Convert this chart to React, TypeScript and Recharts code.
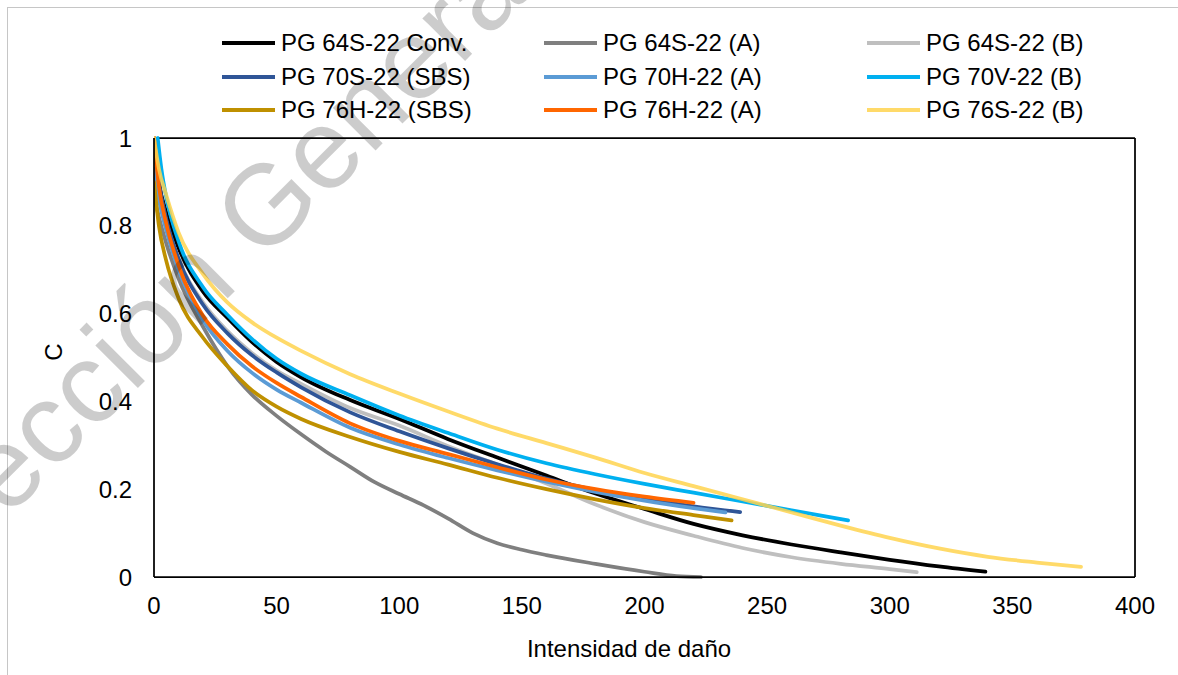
import { LineChart, Line, XAxis, YAxis, ReferenceLine } from "recharts"

const X_TICKS = [0, 50, 100, 150, 200, 250, 300, 350, 400]
const Y_TICKS = [0, 0.2, 0.4, 0.6, 0.8, 1]

// PG 64S-22 Conv.
const S_CONV = [0, 2, 5, 10, 20, 30, 40, 50, 60, 80, 100, 120, 140, 160, 180, 200, 220, 240, 260, 280, 300, 320, 339]
const C_CONV = [1.0, 0.9, 0.83, 0.75, 0.65, 0.59, 0.535, 0.49, 0.455, 0.403, 0.36, 0.314, 0.272, 0.231, 0.19, 0.155, 0.121, 0.095, 0.074, 0.056, 0.039, 0.024, 0.012]

// PG 64S-22 (A)
const S_64A = [0, 2, 5, 10, 20, 30, 40, 50, 60, 70, 80, 90, 100, 110, 120, 130, 140, 150, 160, 180, 200, 213, 223]
const C_64A = [0.87, 0.82, 0.76, 0.68, 0.57, 0.48, 0.415, 0.367, 0.325, 0.286, 0.251, 0.216, 0.189, 0.163, 0.133, 0.1, 0.077, 0.062, 0.05, 0.03, 0.012, 0.002, 0.0]

// PG 64S-22 (B)
const S_64B = [0, 2, 5, 10, 20, 30, 40, 50, 60, 80, 100, 120, 140, 160, 180, 200, 220, 240, 260, 280, 300, 311]
const C_64B = [0.97, 0.89, 0.81, 0.725, 0.625, 0.56, 0.51, 0.47, 0.44, 0.385, 0.345, 0.298, 0.256, 0.213, 0.165, 0.125, 0.094, 0.066, 0.045, 0.03, 0.018, 0.011]

// PG 70S-22 (SBS)
const S_70SBS = [0, 2, 5, 10, 20, 30, 40, 50, 60, 80, 100, 120, 140, 160, 180, 200, 220, 239]
const C_70SBS = [1.0, 0.9, 0.815, 0.725, 0.62, 0.555, 0.505, 0.466, 0.432, 0.375, 0.332, 0.293, 0.257, 0.224, 0.198, 0.178, 0.161, 0.148]

// PG 70H-22 (A)
const S_70A = [0, 2, 5, 10, 20, 30, 40, 50, 60, 80, 100, 120, 140, 160, 180, 200, 220, 233]
const C_70A = [0.93, 0.86, 0.79, 0.7, 0.585, 0.515, 0.465, 0.427, 0.397, 0.34, 0.302, 0.271, 0.243, 0.217, 0.194, 0.174, 0.157, 0.147]

// PG 70V-22 (B)
const S_70B = [1.5, 3, 5, 10, 20, 30, 40, 50, 60, 80, 100, 120, 140, 160, 180, 200, 220, 240, 260, 283]
const C_70B = [1.0, 0.93, 0.865, 0.765, 0.66, 0.597, 0.542, 0.497, 0.463, 0.414, 0.368, 0.328, 0.29, 0.259, 0.234, 0.212, 0.192, 0.172, 0.152, 0.129]

// PG 76H-22 (SBS)
const S_76SBS = [0, 2, 5, 10, 20, 30, 40, 50, 60, 80, 100, 120, 140, 160, 180, 200, 220, 235.5]
const C_76SBS = [0.9, 0.8, 0.72, 0.635, 0.545, 0.48, 0.425, 0.388, 0.36, 0.319, 0.285, 0.256, 0.226, 0.2, 0.177, 0.157, 0.141, 0.129]

// PG 76H-22 (A)
const S_76A = [0, 2, 5, 10, 20, 30, 40, 50, 60, 80, 100, 120, 140, 160, 180, 200, 220]
const C_76A = [1.0, 0.89, 0.805, 0.71, 0.595, 0.53, 0.48, 0.442, 0.41, 0.35, 0.31, 0.28, 0.25, 0.222, 0.2, 0.183, 0.169]

// PG 76S-22 (B)
const S_76B = [0, 2, 5, 10, 20, 30, 40, 50, 60, 80, 100, 120, 140, 160, 180, 200, 220, 240, 260, 280, 300, 320, 340, 360, 378]
const C_76B = [1.0, 0.93, 0.87, 0.785, 0.69, 0.625, 0.58, 0.545, 0.515, 0.462, 0.418, 0.377, 0.338, 0.305, 0.272, 0.237, 0.207, 0.177, 0.147, 0.117, 0.089, 0.065, 0.046, 0.033, 0.023]

const FONT = "'Liberation Sans', Arial, sans-serif"
const FS = 24

const toPoints = (s: number[], c: number[]) => s.map((x, i) => ({ s: x, c: c[i] }))

const SERIES = [
  { name: "PG 64S-22 Conv.", color: "#000000", data: toPoints(S_CONV, C_CONV) },
  { name: "PG 64S-22 (A)", color: "#7f7f7f", data: toPoints(S_64A, C_64A) },
  { name: "PG 64S-22 (B)", color: "#bfbfbf", data: toPoints(S_64B, C_64B) },
  { name: "PG 70S-22 (SBS)", color: "#2f5597", data: toPoints(S_70SBS, C_70SBS) },
  { name: "PG 70H-22 (A)", color: "#5b9bd5", data: toPoints(S_70A, C_70A) },
  { name: "PG 70V-22 (B)", color: "#00b0f0", data: toPoints(S_70B, C_70B) },
  { name: "PG 76H-22 (SBS)", color: "#bf9000", data: toPoints(S_76SBS, C_76SBS) },
  { name: "PG 76H-22 (A)", color: "#ff6600", data: toPoints(S_76A, C_76A) },
  { name: "PG 76S-22 (B)", color: "#ffd34f", data: toPoints(S_76B, C_76B), opacity: 0.85 },
]

const LEGEND_COLS = [222, 544, 867]
const LEGEND_ROWS = [43, 77, 110]

export default function App() {
  return (
    <div style={{ position: "fixed", left: 0, top: 0, width: 1178, height: 675, background: "#fff", overflow: "hidden", fontFamily: FONT }}>
      {/* outer chart frame */}
      <div style={{ position: "absolute", left: 7, top: 7, width: 1200, height: 700, border: "1px solid #c6c6c6" }} />

      <LineChart width={1178} height={675} margin={{ top: 138, right: 43, bottom: 58, left: 0 }}>
        <XAxis
          type="number"
          dataKey="s"
          domain={[0, 400]}
          ticks={X_TICKS}
          allowDataOverflow
          tickLine={false}
          tickSize={0}
          tickMargin={20}
          height={40}
          axisLine={{ stroke: "#000", strokeWidth: 1.75 }}
          tick={{ fill: "#000", fontSize: FS, fontFamily: FONT }}
        />
        <YAxis
          type="number"
          dataKey="c"
          domain={[0, 1]}
          ticks={Y_TICKS}
          tickLine={false}
          tickSize={0}
          tickMargin={22}
          width={154}
          axisLine={{ stroke: "#000", strokeWidth: 1.75 }}
          tick={{ fill: "#000", fontSize: FS, fontFamily: FONT }}
        />
        {/* plot area border: top and right */}
        <ReferenceLine y={1} stroke="#000" strokeWidth={1.75} />
        <ReferenceLine x={400} stroke="#000" strokeWidth={1.75} />
        {SERIES.map((sr) => (
          <Line
            key={sr.name}
            data={sr.data}
            dataKey="c"
            name={sr.name}
            type="monotone"
            stroke={sr.color}
            strokeOpacity={sr.opacity ?? 1}
            strokeWidth={3.75}
            strokeLinecap="round"
            dot={false}
            activeDot={false}
            isAnimationActive={false}
          />
        ))}
      </LineChart>

      {/* legend */}
      {SERIES.map((sr, i) => (
        <div
          key={sr.name}
          style={{
            position: "absolute",
            left: LEGEND_COLS[i % 3],
            top: LEGEND_ROWS[Math.floor(i / 3)] - 14,
            height: 28,
            display: "flex",
            alignItems: "center",
            fontSize: FS,
            color: "#000",
            whiteSpace: "nowrap",
          }}
        >
          <span style={{ display: "inline-block", width: 53, height: 4, background: sr.color, opacity: sr.opacity ?? 1, marginRight: 6 }} />
          <span>{sr.name}</span>
        </div>
      ))}

      {/* axis titles */}
      <div style={{ position: "absolute", left: 429, width: 400, top: 635, textAlign: "center", fontSize: FS, color: "#000" }}>
        Intensidad de daño
      </div>
      <div style={{ position: "absolute", left: 54 - 20, top: 352 - 14, width: 40, height: 28, textAlign: "center", fontSize: FS, color: "#000", transform: "rotate(-90deg)", lineHeight: "28px" }}>
        C
      </div>

      {/* watermark */}
      <svg width={1178} height={675} style={{ position: "absolute", left: 0, top: 0, pointerEvents: "none" }}>
        <text
          x={-96}
          y={622}
          transform="rotate(-45 -96 622)"
          fontSize={114}
          fontFamily={FONT}
          fill="#000"
          fillOpacity={0.2}
        >
          Dirección General de Bibliotecas
        </text>
      </svg>
    </div>
  )
}
